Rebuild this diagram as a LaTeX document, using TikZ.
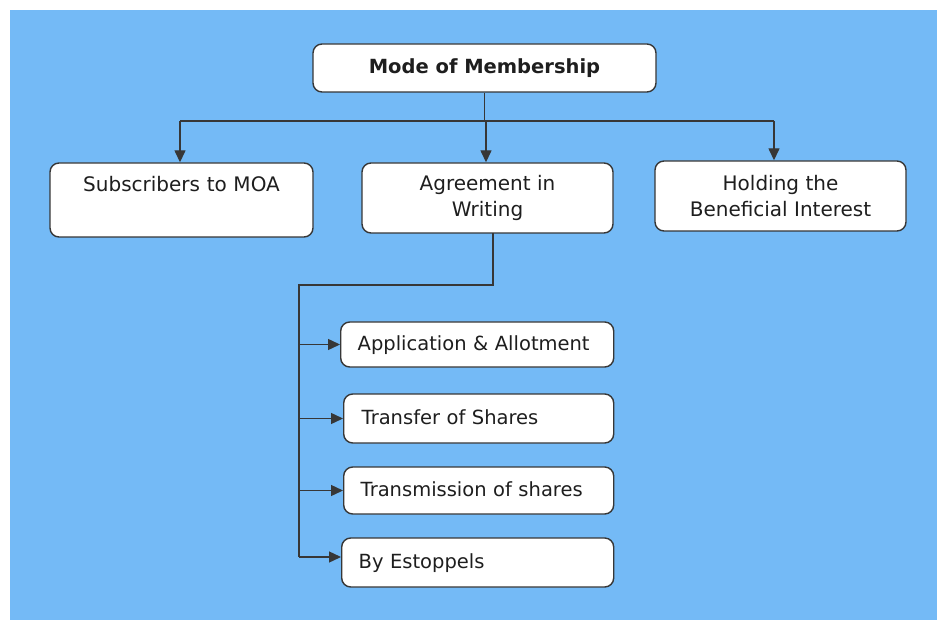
\documentclass[tikz,border=0pt]{standalone}
\usepackage{fontspec}
\setmainfont{DejaVu Sans}
\usetikzlibrary{arrows.meta}
\definecolor{skyback}{RGB}{116,186,246}
\definecolor{inkline}{RGB}{55,55,55}
\definecolor{inktext}{RGB}{30,30,30}
\begin{document}
\begin{tikzpicture}[x=1pt,y=-1pt,
  box/.style={draw=inkline, line width=1.4pt, fill=white, rounded corners=9pt,
    text=inktext, font=\fontsize{20}{26}\selectfont, align=center, inner sep=0pt},
  subbox/.style={box, align=left, anchor=west, font=\fontsize{19.5}{26}\selectfont,
    inner xsep=17pt, text height=14pt, text depth=3pt},
  wire/.style={draw=inkline, line width=1.4pt},
  arrow/.style={wire, -{Triangle[length=12pt,width=11pt]}}]
  % page and background
  \useasboundingbox (0,0) rectangle (937,620);
  \fill[white] (0,0) rectangle (937,620);
  \fill[skyback] (10,10) rectangle (937,620);

  % top level
  \node[box, minimum width=343pt, minimum height=48pt, font=\fontsize{19.5}{26}\selectfont\bfseries]
    (mode) at (484.5,68) {Mode of Membership};

  % second level
  \node[box, minimum width=263pt, text height=29pt, text depth=45pt, text width=263pt]
    (sub) at (181.5,200) {Subscribers to MOA};
  \node[box, minimum width=251pt, minimum height=70pt]
    (agr) at (487.5,198) {Agreement in\\Writing};
  \node[box, minimum width=251pt, minimum height=70pt]
    (hold) at (780.5,196) {Holding the\\Beneficial Interest};

  % ways of agreeing in writing
  \node[subbox, minimum width=273pt, minimum height=45pt, text width=239pt]
    (app) at (340,344.5) {Application \& Allotment};
  \node[subbox, minimum width=270pt, minimum height=49pt, text width=234pt, inner xsep=18pt]
    (trf) at (343,418.5) {Transfer of Shares};
  \node[subbox, minimum width=270pt, minimum height=47pt, text width=236pt]
    (trm) at (343,490.5) {Transmission of shares};
  \node[subbox, minimum width=272pt, minimum height=49pt, text width=238pt]
    (est) at (341,562.5) {By Estoppels};

  % bus from the top box to the three ways
  \coordinate (busL) at (180,121);
  \coordinate (busR) at (774,121);
  \coordinate (busA) at (486,121);
  \draw[wire] (mode.south) -- (mode.south |- busL);
  \draw[wire] (busL) -- (busR);
  \draw[arrow] (busL) -- (busL |- sub.north);
  \draw[arrow] (busA) -- (busA |- agr.north);
  \draw[arrow] (busR) -- (busR |- hold.north);

  % trunk from the agreement box to its four forms
  \coordinate (drop) at (493,233);
  \coordinate (elbow) at (493,285);
  \coordinate (trunkTop) at (299,285);
  \coordinate (trunkEnd) at (299,557);
  \draw[wire] (drop) -- (elbow) -- (trunkTop) -- (trunkEnd);
  \draw[arrow] (trunkTop |- app.west) -- (app.west);
  \draw[arrow] (trunkTop |- trf.west) -- (trf.west);
  \draw[arrow] (trunkTop |- trm.west) -- (trm.west);
  \draw[arrow] (trunkEnd) -- (trunkEnd -| est.west);
\end{tikzpicture}
\end{document}
